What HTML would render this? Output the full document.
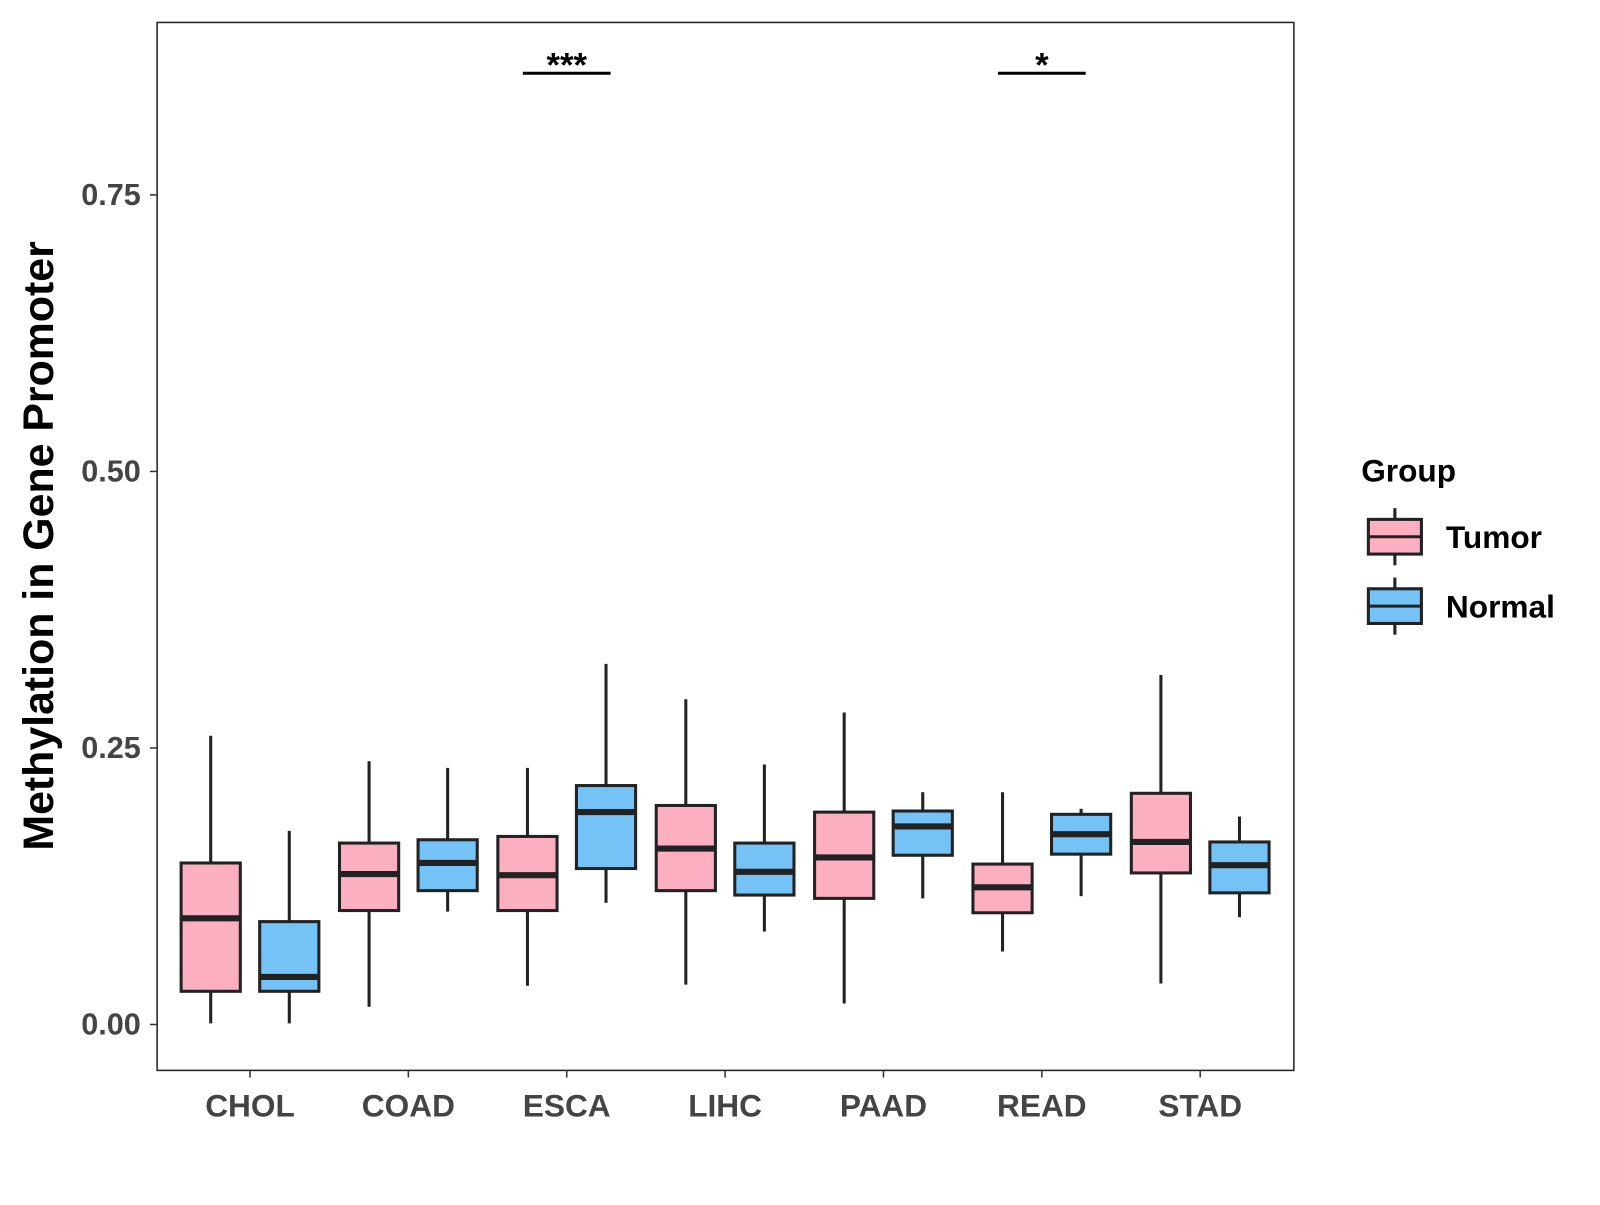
<!DOCTYPE html>
<html><head><meta charset="utf-8"><style>
body{margin:0;background:#fff;}
svg text{font-family:"Liberation Sans",Arial,sans-serif;font-weight:bold;}
</style></head><body>
<svg id="chart" width="1600" height="1200" xmlns="http://www.w3.org/2000/svg">
<rect x="0" y="0" width="1600" height="1200" fill="#fff"/>
<g id="plot" transform="scale(1.0204)"></g>
</svg>
<script>
const categories=["CHOL","COAD","ESCA","LIHC","PAAD","READ","STAD"];
// [low, q1, median, q3, high]
const tumorStats=[[0.001,0.030,0.096,0.146,0.261],[0.016,0.103,0.136,0.164,0.238],[0.035,0.103,0.135,0.170,0.232],[0.036,0.121,0.159,0.198,0.294],[0.019,0.114,0.151,0.192,0.282],[0.066,0.101,0.124,0.145,0.210],[0.037,0.137,0.165,0.209,0.316]];
const normalStats=[[0.001,0.030,0.043,0.093,0.175],[0.102,0.121,0.146,0.167,0.232],[0.110,0.141,0.192,0.216,0.326],[0.084,0.117,0.138,0.164,0.235],[0.114,0.153,0.179,0.193,0.210],[0.116,0.154,0.172,0.190,0.195],[0.097,0.119,0.144,0.165,0.188]];
const yTicks=[0,0.25,0.5,0.75];
const yTickLabels=["0.00","0.25","0.50","0.75"];
const sigCats=["ESCA","READ"];
const sigLabels=["***","*"];
const sigLevel=0.86;

const NS="http://www.w3.org/2000/svg";
const g=document.getElementById('plot');
const L=154,R=1268,T=22,B=1049;
const y=v=>1004-v*1084;
const x=i=>245+i*155.2;
function el(t,a){const e=document.createElementNS(NS,t);for(const k in a)e.setAttribute(k,a[k]);g.appendChild(e);return e;}
function txt(s,a){const e=el('text',a);e.textContent=s;return e;}

const panel=el('rect',{x:L,y:T,width:R-L,height:B-T,fill:'none',stroke:'#222','stroke-width':1.5});



yTicks.forEach((v,i)=>{
  const tk=el('line',{x1:L-7,x2:L,y1:y(v),y2:y(v),stroke:'#333','stroke-width':1.5});
  
  
  const t=txt(yTickLabels[i],{x:L-16,y:y(v)+10,'text-anchor':'end','font-size':30,fill:'#444'});
  
  
});
categories.forEach((c,i)=>{
  const tk=el('line',{x1:x(i),x2:x(i),y1:B,y2:B+7,stroke:'#333','stroke-width':1.5});
  
  
  const t=txt(c,{x:x(i),y:1094,'text-anchor':'middle','font-size':31,fill:'#444'});
  
  
});
function box(cx,s,fill,name){
  const w=58;
  const wl=el('line',{x1:cx,x2:cx,y1:y(s[4]),y2:y(s[3]),stroke:'#222','stroke-width':3});
  
  
  const wl2=el('line',{x1:cx,x2:cx,y1:y(s[1]),y2:y(s[0]),stroke:'#222','stroke-width':3});
  
  
  const r=el('rect',{x:cx-w/2,y:y(s[3]),width:w,height:y(s[1])-y(s[3]),fill:fill,stroke:'#222','stroke-width':3});
  
  
  const m=el('line',{x1:cx-w/2,x2:cx+w/2,y1:y(s[2]),y2:y(s[2]),stroke:'#222','stroke-width':6});
  
  
}
categories.forEach((c,i)=>{
  box(x(i)-38.5,tumorStats[i],'#FBAFC1',c.toLowerCase()+'-tumor');
  box(x(i)+38.5,normalStats[i],'#75C2F6',c.toLowerCase()+'-normal');
});
sigCats.forEach((c,k)=>{
  const i=categories.indexOf(c);
  const l=el('line',{x1:x(i)-43,x2:x(i)+43,y1:y(sigLevel),y2:y(sigLevel),stroke:'#000','stroke-width':3});
  
  
  const t=txt(sigLabels[k],{x:x(i),y:y(sigLevel)+3,'text-anchor':'middle','font-size':34,fill:'#000'});
  
  
});
const yt=txt('Methylation in Gene Promoter',{x:0,y:0,transform:'translate(52,535) rotate(-90)','text-anchor':'middle','font-size':42,fill:'#000'});


const lt=txt('Group',{x:1334,y:472,'font-size':31,fill:'#000'});


[['Tumor','#FBAFC1',526],['Normal','#75C2F6',594]].forEach(([n,f,cy])=>{
  const w=el('line',{x1:1367,x2:1367,y1:cy-28,y2:cy+28,stroke:'#222','stroke-width':3});
  
  
  const r=el('rect',{x:1341,y:cy-17,width:52,height:34,fill:f,stroke:'#222','stroke-width':3});
  
  
  const m=el('line',{x1:1341,x2:1393,y1:cy,y2:cy,stroke:'#222','stroke-width':3});
  
  
  const t=txt(n,{x:1417,y:cy+11,'font-size':31,fill:'#000'});
  
  
});
</script>
</body></html>
